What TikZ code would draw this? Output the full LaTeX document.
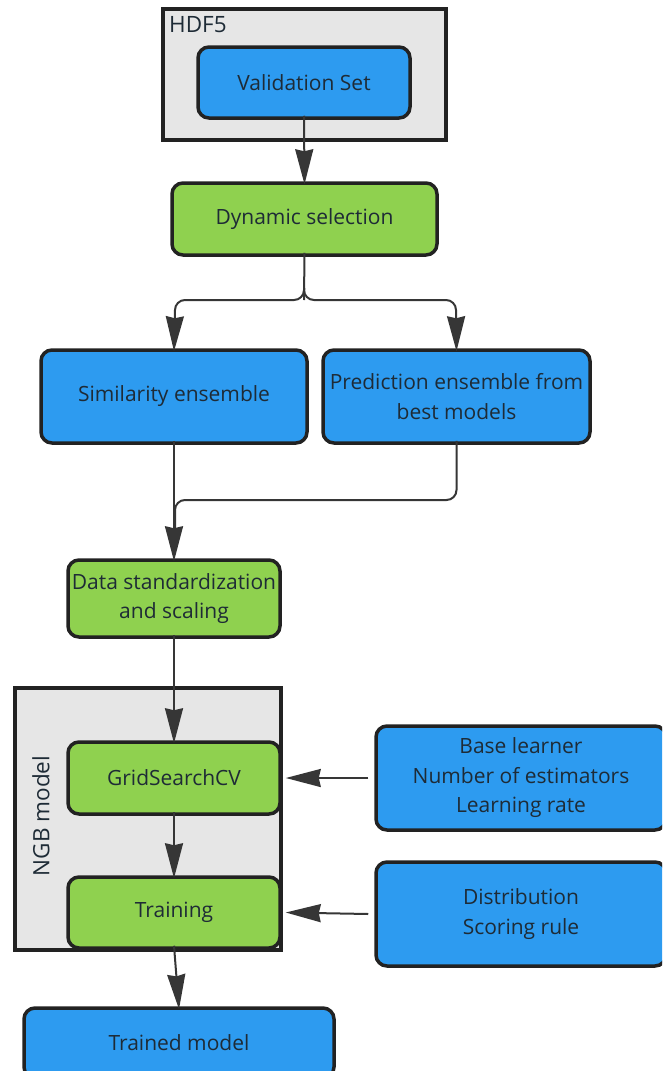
\documentclass[tikz,border=0pt]{standalone}
\usepackage{fontspec}
\setmainfont{Open Sans}
\usetikzlibrary{arrows.meta}
\definecolor{boxblue}{HTML}{2D9BF0}
\definecolor{boxgreen}{HTML}{8FD14F}
\definecolor{groupgray}{HTML}{E6E6E6}
\definecolor{edge}{HTML}{222222}
\definecolor{wire}{HTML}{363636}
\definecolor{ink}{HTML}{1E2B36}
\tikzset{
  stepbox/.style={draw=edge, line width=3.5pt, rounded corners=11pt, text=ink,
    font=\fontsize{21}{29.5}\selectfont, align=center, inner sep=0pt},
  bluebox/.style={stepbox, fill=boxblue},
  greenbox/.style={stepbox, fill=boxgreen},
  group/.style={draw=edge, line width=4pt, fill=groupgray},
  grouplabel/.style={inner sep=0pt, text=ink, font=\fontsize{22.5}{24}\selectfont},
  flowtip/.tip={Stealth[length=35pt, width=18pt, inset=2pt]},
  flow/.style={draw=wire, line width=2pt, -flowtip},
  plain/.style={draw=wire, line width=2pt, rounded corners=10pt},
}
\begin{document}
\begin{tikzpicture}[x=1pt, y=-1pt]
\useasboundingbox (0,0) rectangle (662,1071);
\clip (0,0) rectangle (662,1071);

% containers
\draw[group] (163,9) rectangle (446,140);
\node[grouplabel, anchor=north west] (hdf) at (169,16) {HDF5};
\draw[group] (15,688) rectangle (281,950);
\node[grouplabel, rotate=90] (ngb) at (41,816) {NGB model};

% process boxes
\node[bluebox, minimum width=212pt, minimum height=71pt] (val) at (304,82.5) {Validation Set};
\node[greenbox, minimum width=265pt, minimum height=72pt] (dyn) at (304.5,219) {Dynamic selection};
\node[bluebox, minimum width=266pt, minimum height=93pt] (sim) at (174,396.5) {Similarity ensemble};
\node[bluebox, minimum width=267pt, minimum height=93pt] (pred) at (456.5,396.5) {Prediction ensemble from\\best models};
\node[greenbox, minimum width=212pt, minimum height=77pt] (std) at (174,598.5) {Data standardization\\and scaling};
\node[greenbox, minimum width=212pt, minimum height=72pt] (grid) at (174,778) {GridSearchCV};
\node[greenbox, minimum width=212pt, minimum height=71pt] (train) at (174,912.5) {Training};
\node[bluebox, minimum width=290pt, minimum height=104pt] (par1) at (521,778) {Base learner\\Number of estimators\\Learning rate};
\node[bluebox, minimum width=290pt, minimum height=104pt] (par2) at (521,914) {Distribution\\Scoring rule};
\node[bluebox, minimum width=310pt, minimum height=70pt] (out) at (179,1043) {Trained model};

% split after the dynamic selection
\coordinate (fork) at (304,300);
\coordinate (forkL) at (175,310);
\coordinate (forkR) at (456,310);
\draw[plain] ([yshift=4pt]dyn.south) -- (fork);
\draw[plain] (304,288) |- (240,300) -| (forkL);
\draw[plain] (304,288) |- (380,300) -| (forkR);
\draw[flow] (forkL) -- ([yshift=-3pt]sim.north);
\draw[flow] (forkR) -- ([yshift=-3pt]pred.north);

% merge of the two ensembles
\coordinate (join) at (175,530);
\draw[flow] ([yshift=4pt]sim.south) -- ([yshift=-3pt]std.north);
\draw[plain] ([yshift=4pt]pred.south) |- (300,500) -| (join);

% main chain
\draw[flow] ([yshift=4pt]val.south) -- ([yshift=-3pt]dyn.north);
\draw[flow] ([yshift=4pt]std.south) -- ([yshift=-3pt]grid.north);
\draw[flow] ([yshift=4pt]grid.south) -- ([yshift=-3pt]train.north);
\draw[flow] ([yshift=4pt]train.south) -- ([yshift=-3pt]out.north);

% hyperparameter inputs
\draw[flow] ([xshift=-6pt]par1.west) -- ([xshift=4pt]grid.east);
\draw[flow] ([xshift=-6pt]par2.west) -- ([xshift=4pt]train.east);
\end{tikzpicture}
\end{document}
